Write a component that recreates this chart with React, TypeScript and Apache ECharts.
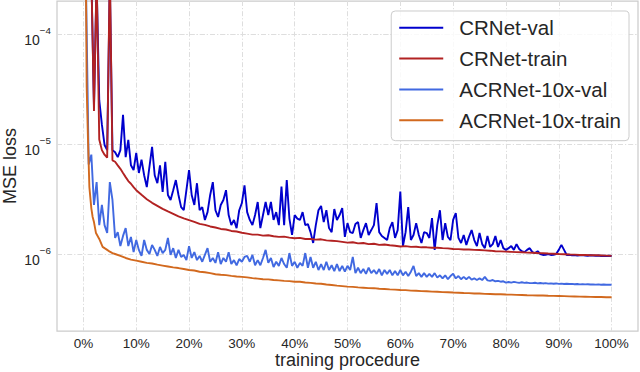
import React, { useEffect, useRef } from 'react';
import * as echarts from 'echarts';

// training progress (%) sampling step of the validation curves
const PCT_STEP = 0.5;

// MSE loss values are in units of 1e-6
const crValLoss = [
  900, 800, 600, 350, 22, 300, 25, 15, 9.8, 8.8,
  300, 8.8, 8.4, 7.6, 8.8, 18.4, 7.6, 10.9, 6.4, 5.8,
  8.3, 5.45, 7.2, 5.2, 4.06, 6.2, 9.4, 5.2, 4.4, 6.4,
  3.66, 6.9, 3.44, 3.1, 3.8, 4.7, 3.44, 2.67, 2.5, 3.8,
  5.8, 3.44, 2.79, 4.4, 2.5, 2.67, 2.04, 2.4, 3.44, 4.5,
  2.5, 2.17, 2.79, 3.1, 3.8, 2.26, 1.83, 2.04, 1.72, 2.5,
  2.9, 4.2, 2.4, 2.04, 1.83, 2.26, 2.97, 1.72, 2.26, 2.97,
  2.26, 2.97, 2.04, 2.4, 1.83, 4.1, 1.83, 4.7, 2.1, 1.49,
  2.26, 2.1, 2.04, 2.4, 1.83, 1.87, 1.58, 1.26, 1.83, 2.5,
  2.73, 1.95, 2.5, 1.72, 1.58, 2.56, 2.04, 2.26, 2.62, 1.43,
  1.91, 1.58, 1.55, 1.87, 1.95, 1.4, 1.65, 1.91, 1.49, 1.65,
  1.83, 2.9, 1.58, 1.46, 1.4, 1.34, 1.72, 1.95, 1.4, 1.65,
  3.7, 1.18, 1.58, 2.67, 1.34, 1.49, 1.91, 1.49, 1.26, 1.58,
  1.55, 1.4, 2.12, 1.09, 1.83, 2.5, 1.34, 1.91, 1.43, 1.34,
  2.04, 2.36, 1.4, 1.26, 1.49, 1.21, 1.43, 1.65, 1.34, 1.18,
  1.55, 1.23, 1.13, 1.46, 1.16, 1.23, 1.46, 1.16, 1.34, 1.13,
  1.09, 1.13, 1.18, 1.09, 1.23, 1.11, 1.06, 1.04, 1.09, 1.13,
  1.04, 1.02, 1.06, 1.0, 0.98, 0.985, 1.0, 0.98, 0.985, 1.0,
  1.09, 1.21, 1.09, 0.98, 0.985, 0.975, 0.98, 0.97, 0.975, 0.98,
  0.97, 0.965, 0.975, 0.97, 0.965, 0.97, 0.96, 0.965, 0.96, 0.965,
  0.958,
];

const acrValLoss = [
  2000, 250, 6.5, 8.0, 2.79, 4.5, 1.83, 2.79, 1.83, 1.55,
  4.5, 3.1, 1.4, 1.58, 1.18, 1.46, 1.72, 1.18, 1.43, 1.04,
  1.34, 1.09, 0.96, 1.34, 1.09, 1.0, 1.21, 1.09, 0.96, 1.16,
  1.02, 1.09, 1.4, 0.98, 1.13, 0.92, 1.09, 0.94, 0.98, 0.88,
  1.18, 0.92, 1.04, 0.88, 0.96, 0.85, 0.98, 1.13, 0.85, 0.92,
  0.83, 1.04, 0.81, 0.92, 0.85, 1.04, 0.81, 0.88, 0.79, 0.9,
  0.85, 0.94, 0.96, 0.85, 0.98, 0.79, 0.88, 0.79, 0.92, 1.09,
  0.83, 0.92, 0.76, 0.85, 0.78, 0.92, 0.81, 0.75, 1.02, 0.78,
  0.85, 0.75, 0.83, 0.78, 1.02, 0.75, 0.94, 0.75, 0.85, 0.715,
  0.81, 0.715, 0.85, 0.715, 0.79, 0.7, 0.81, 0.7, 0.78, 0.69,
  0.78, 0.715, 0.94, 0.67, 0.75, 0.67, 0.73, 0.66, 0.75, 0.67,
  0.715, 0.66, 0.73, 0.64, 0.715, 0.66, 0.715, 0.64, 0.7, 0.64,
  0.715, 0.64, 0.69, 0.63, 0.69, 0.78, 0.63, 0.67, 0.62, 0.67,
  0.62, 0.66, 0.62, 0.67, 0.61, 0.64, 0.6, 0.64, 0.59, 0.63,
  0.66, 0.6, 0.63, 0.59, 0.62, 0.59, 0.62, 0.585, 0.6, 0.58,
  0.6, 0.58, 0.62, 0.575, 0.57, 0.58, 0.565, 0.57, 0.56, 0.565,
  0.55, 0.556, 0.55, 0.558, 0.552, 0.547, 0.553, 0.546, 0.55, 0.544,
  0.543, 0.548, 0.541, 0.545, 0.54, 0.544, 0.538, 0.541, 0.536, 0.54,
  0.535, 0.538, 0.534, 0.537, 0.533, 0.535, 0.531, 0.534, 0.53, 0.532,
  0.529, 0.531, 0.528, 0.53, 0.527, 0.529, 0.526, 0.528, 0.525, 0.527,
  0.525,
];

const crTrainPct = [
  0, 0.5, 1, 1.5, 2, 2.5, 3, 3.5, 4, 4.5, 5, 5.5, 6, 6.5, 7, 7.5, 8, 8.5, 9, 9.5, 10,
  11, 12, 13, 14, 15, 16, 17, 18, 19, 20, 21, 22, 23, 24, 25, 26, 27, 28, 29, 30,
  31, 32, 33, 34, 35, 36, 37, 38, 39, 40, 41, 42, 43, 44, 45, 46, 47, 48, 49, 50,
  51, 52, 53, 54, 55, 56, 57, 58, 59, 60, 61, 62, 63, 64, 65, 66, 67, 68, 69, 70,
  71, 72, 73, 74, 75, 76, 77, 78, 79, 80, 81, 82, 83, 84, 85, 86, 87, 88, 89, 90,
  91, 92, 93, 94, 95, 96, 97, 98, 99, 100,
];
const crTrainLoss = [
  900, 800, 600, 350, 20, 350, 11, 8.8, 8.0, 7.5, 400, 7.1, 6.9, 6.4, 5.95, 5.45, 5.0, 4.6, 4.35, 4.05, 3.8,
  3.45, 3.15, 2.92, 2.74, 2.57, 2.44, 2.32, 2.2, 2.11, 2.03, 1.96, 1.88, 1.84, 1.78, 1.74, 1.69, 1.67, 1.62, 1.6, 1.56,
  1.53, 1.5, 1.5, 1.47, 1.48, 1.45, 1.43, 1.44, 1.41, 1.39, 1.4, 1.37, 1.37, 1.35, 1.36, 1.33, 1.32, 1.31, 1.29, 1.27,
  1.28, 1.25, 1.26, 1.23, 1.24, 1.21, 1.22, 1.2, 1.19, 1.17, 1.18, 1.16, 1.165, 1.15, 1.15, 1.14, 1.14, 1.13, 1.125, 1.11,
  1.108, 1.1, 1.098, 1.09, 1.087, 1.08, 1.072, 1.06, 1.057, 1.05, 1.046, 1.04, 1.036, 1.03, 1.026, 1.02, 1.016, 1.01, 1.006, 1.0,
  0.996, 0.99, 0.987, 0.98, 0.978, 0.975, 0.973, 0.97, 0.966, 0.962,
];

const acrTrainPct = [
  0, 0.5, 0.62, 0.87, 1.13, 1.5, 1.75, 2, 2.38, 3, 3.64, 4, 4.5, 5, 5.5, 6, 7, 8, 9, 10,
  11, 12, 13, 14, 15, 16, 17, 18, 19, 20, 21, 22, 23, 24, 25, 26, 27, 28, 29, 30,
  31, 32, 33, 34, 35, 36, 37, 38, 39, 40, 41, 42, 43, 44, 45, 46, 47, 48, 49, 50,
  51, 52, 53, 54, 55, 56, 57, 58, 59, 60, 61, 62, 63, 64, 65, 66, 67, 68, 69, 70,
  71, 72, 73, 74, 75, 76, 77, 78, 79, 80, 81, 82, 83, 84, 85, 86, 87, 88, 89, 90,
  91, 92, 93, 94, 95, 96, 97, 98, 99, 100,
];
const acrTrainLoss = [
  2000, 210, 33, 10.9, 4.06, 2.6, 2.17, 1.95, 1.55, 1.37, 1.16, 1.13, 1.09, 1.05, 1.02, 1.0, 0.96, 0.92, 0.89, 0.87,
  0.85, 0.83, 0.82, 0.8, 0.785, 0.77, 0.755, 0.745, 0.73, 0.715, 0.708, 0.69, 0.683, 0.67, 0.655, 0.647, 0.643, 0.632, 0.625, 0.62,
  0.613, 0.603, 0.597, 0.59, 0.588, 0.58, 0.576, 0.57, 0.567, 0.56, 0.559, 0.55, 0.546, 0.54, 0.537, 0.528, 0.523, 0.516, 0.511, 0.505,
  0.503, 0.497, 0.494, 0.49, 0.489, 0.483, 0.481, 0.477, 0.474, 0.47, 0.469, 0.465, 0.463, 0.46, 0.458, 0.455, 0.454, 0.45, 0.449, 0.446,
  0.445, 0.442, 0.441, 0.438, 0.437, 0.434, 0.433, 0.431, 0.43, 0.428, 0.427, 0.425, 0.424, 0.422, 0.421, 0.42, 0.419, 0.417, 0.416, 0.415,
  0.414, 0.412, 0.411, 0.41, 0.409, 0.408, 0.407, 0.406, 0.405, 0.404,
];

const seriesNames = ['CRNet-val', 'CRNet-train', 'ACRNet-10x-val', 'ACRNet-10x-train'];
const seriesColors = ['#0000cd', '#b22222', '#4169e1', '#d2691e'];

const xTickStep = 10;
const yName = 'MSE loss';
const xName = 'training procedure';

const FONT = "'Liberation Sans', Arial, sans-serif";
const TEXT = '#262626';
const GRID_LINE = { color: '#dedede', width: 1, type: [5, 2, 1.2, 2] as any };

export default function App() {
  const ref = useRef<HTMLDivElement>(null);
  useEffect(() => {
    document.body.style.margin = '0';
    const chart = echarts.init(ref.current!, null, { renderer: 'svg' });
    const scale = 1e-6;
    const valData = (arr: number[]) => arr.map((v, i) => [i * PCT_STEP, v * scale]);
    const pairData = (xs: number[], ys: number[]) => xs.map((x, i) => [x, ys[i] * scale]);
    const dataSets = [
      valData(crValLoss),
      pairData(crTrainPct, crTrainLoss),
      valData(acrValLoss),
      pairData(acrTrainPct, acrTrainLoss),
    ];
    const left = 57;
    const right = 2;
    const pxPerPct = (640 - left - right) / 110;
    const gridBase = { outerBoundsMode: 'none', containLabel: false };
    const option: any = {
      animation: false,
      textStyle: { fontFamily: FONT },
      grid: [
        { ...gridBase, left, right, top: 1, bottom: 41, show: true, borderColor: '#cccccc', borderWidth: 1.25, backgroundColor: 'transparent' },
        { ...gridBase, left, right, top: 34, bottom: 118 },
        { ...gridBase, left: left + 5 * pxPerPct, right: right + 5 * pxPerPct, top: 1, bottom: 41 },
      ],
      xAxis: [
        { gridIndex: 0, type: 'value', min: -5, max: 105, show: false },
        { gridIndex: 1, type: 'value', min: 0, max: 1, show: false },
        {
          gridIndex: 2, type: 'value', min: 0, max: 100, interval: xTickStep,
          axisLine: { show: false }, axisTick: { show: false },
          axisLabel: { formatter: '{value}%', fontSize: 13.5, color: TEXT, margin: 5, fontFamily: FONT },
          splitLine: { show: true, lineStyle: GRID_LINE },
        },
      ],
      yAxis: [
        {
          gridIndex: 0, type: 'log', logBase: 10, min: Math.pow(10, -6.7), max: Math.pow(10, -3.7),
          show: false,
        },
        {
          gridIndex: 1, type: 'log', logBase: 10, min: 1e-6, max: 1e-4,
          axisLine: { show: false }, axisTick: { show: false },
          splitLine: { show: true, lineStyle: GRID_LINE },
          axisLabel: {
            margin: 6, color: TEXT, padding: [4, 0, 0, 0],
            formatter: (v: number) => {
              const e = Math.round(Math.log10(v));
              return '{b|10}{s|\u2212' + Math.abs(e) + '}';
            },
            rich: {
              b: { fontSize: 14, color: TEXT, fontFamily: FONT, verticalAlign: 'bottom' },
              s: { fontSize: 9.8, color: TEXT, fontFamily: FONT, verticalAlign: 'top', padding: [0, 0, 12, 0] },
            },
          },
        },
        { gridIndex: 2, type: 'value', min: 0, max: 1, show: false },
      ],
      graphic: [
        {
          type: 'text', x: 9.5, y: 166, rotation: Math.PI / 2, silent: true,
          style: { text: yName, fontSize: 18, fill: TEXT, fontFamily: FONT, align: 'center', verticalAlign: 'middle' },
        },
        {
          type: 'text', x: left + 55 * pxPerPct, y: 360, silent: true,
          style: { text: xName, fontSize: 18, fill: TEXT, fontFamily: FONT, align: 'center', verticalAlign: 'middle' },
        },
      ],
      legend: {
        orient: 'vertical', right: 11, top: 11,
        data: seriesNames,
        icon: 'rect', itemWidth: 44, itemHeight: 2, itemGap: 9.8,
        padding: [6.3, 8, 10, 8],
        backgroundColor: 'rgba(255,255,255,0.8)', borderColor: '#cccccc', borderWidth: 1, borderRadius: 4,
        textStyle: { fontSize: 20.5, color: TEXT, fontFamily: FONT, lineHeight: 20, padding: [0, 0, 0, 11] },
      },
      series: seriesNames.map((name, k) => ({
        name, type: 'line', xAxisIndex: 0, yAxisIndex: 0,
        data: dataSets[k], symbol: 'none', showSymbol: false,
        color: seriesColors[k],
        lineStyle: { color: seriesColors[k], width: 1.9 },
        clip: true,
      })),
    };
    chart.setOption(option);
    return () => chart.dispose();
  }, []);
  return <div ref={ref} style={{ width: 640, height: 372, position: 'absolute', left: 0, top: 0 }} />;
}
